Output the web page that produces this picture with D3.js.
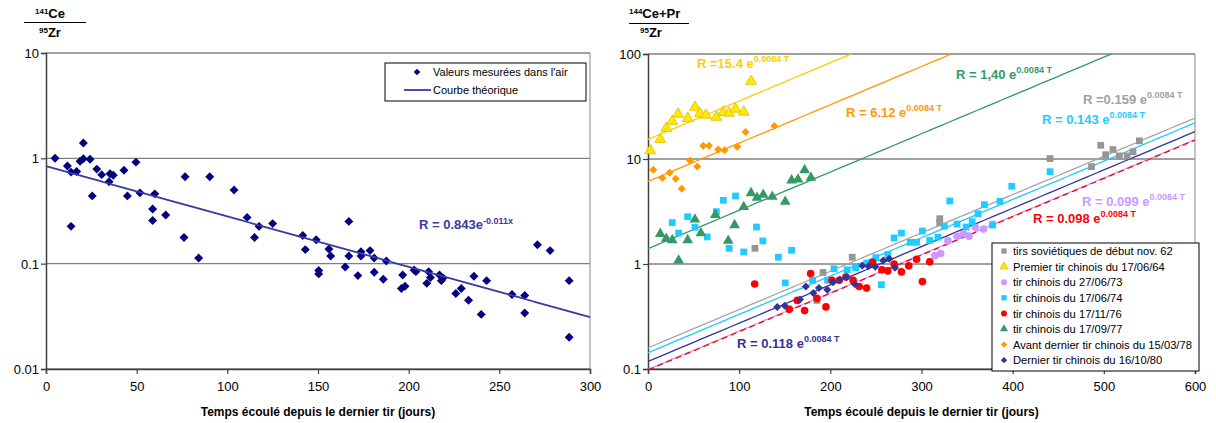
<!DOCTYPE html>
<html><head><meta charset="utf-8">
<script src="https://cdn.jsdelivr.net/npm/d3@7"></script>
<style>body{margin:0;background:#fff} svg{display:block;font-family:Arial,"Liberation Sans",sans-serif}</style>
</head><body><svg id="c" width="1216" height="423"></svg>
<script>
// ---------- DATA ----------
// Left chart: 141Ce / 95Zr measured in air  [days, ratio]
const leftPoints = [[5,1.0],[11.8,0.845],[13.8,0.74],[16.9,0.75],[20.6,1.40],[18.8,0.94],[20.6,0.99],[24.3,0.98],[28,0.79],[30.7,0.70],[35.3,0.715],[37.1,0.69],[34.8,0.60],[43,0.77],[49.6,0.92],[25.5,0.44],[44.9,0.44],[51.8,0.47],[60,0.46],[58.8,0.33],[58.8,0.257],[66,0.29],[13.8,0.226],[76.1,0.177],[84.2,0.113],[76.7,0.67],[90.3,0.67],[103.7,0.50],[110.9,0.275],[117.5,0.226],[115,0.177],[125,0.24],
[141.6,0.185],[143,0.136],[149,0.169],[150.4,0.086],[150.4,0.080],[156,0.138],[157,0.118],[167,0.252],[165,0.093],[167,0.118],[172,0.077],[173.7,0.13],[173.7,0.118],[178.7,0.133],[181,0.113],[181,0.083],[186,0.071],[187.7,0.106],[196.7,0.078],[196,0.058],[198,0.061],[203,0.087],[204,0.084],[211,0.084],[210,0.065],[212,0.074],[217,0.078],[218,0.069],[219,0.073],[226,0.052],[229,0.058],[233,0.045],[236,0.076],[240,0.033],[243,0.069],[257,0.051],[264,0.050],[264,0.034],[271,0.151],[278,0.133],[288.5,0.069],[288.5,0.020]];
const leftFit = {a:0.843, k:-0.011};
const leftYTicks = [0.01,0.1,1,10];
const leftYLabels = ["0.01","0.1","1","10"];
const leftXTicks = [0,50,100,150,200,250,300];

// Right chart: 144Ce+Pr / 95Zr  [days, ratio]
const sovietNov62 = [[117.3,1.41],[185.3,0.45],[192,0.83],[224,1.16],[320,2.70],[320,2.47],[441,10.1],[486.5,8.45],[496.6,13.5],[502,11.0],[510,12.3],[517,10.7],[525.5,10.7],[532,11.7],[539,14.9]];
const chinese640617 = [[2.5,12.0],[13.5,15.4],[20,19.6],[26.6,22.9],[33,26.8],[43.5,24.4],[51.5,31.1],[57,27.2],[63.6,26.2],[75,25.0],[82.6,27.8],[89,27.4],[96,29.9],[105,28],[113,55]];
const chinese730627 = [[314.7,1.2],[321,1.26],[329,1.66],[339,1.84],[346,1.94],[352,1.84],[359,2.24],[368,2.15],[378,2.39]];
const chinese740617 = [[26.6,2.48],[33.6,1.97],[43.5,2.82],[51.5,2.24],[65,1.81],[75,3.15],[82.6,4.04],[96,4.44],[89,1.41],[105,1.30],[119,2.25],[126,1.66],[143,1.16],[157.5,1.35],[150.5,0.66],[180.5,0.70],[197,0.70],[204,0.90],[218.5,0.88],[227.7,0.92],[240,1.02],[250,1.15],[263,1.23],[256,0.635],[270,1.77],[278,1.97],[287.6,1.61],[294.6,1.61],[301,2.06],[309,1.68],[318,1.80],[325,2.29],[331,3.98],[339,2.40],[349,2.25],[355.6,2.53],[362,3.01],[369,3.67],[378,2.35],[386,3.95],[399,5.5],[441,7.57]];
const chinese761117 = [[117,0.645],[155,0.37],[163.8,0.45],[171.8,0.36],[178.4,0.81],[185.3,0.47],[195.2,0.39],[201.8,0.70],[209.8,0.70],[217,0.75],[225,0.70],[231.7,0.61],[239.8,0.59],[246.4,1.04],[256.6,0.88],[263,0.86],[270,1.0],[278,0.84],[286,0.96],[294.6,1.11],[301,0.68],[309,1.05]];
const chinese770917 = [[13.5,1.94],[20,1.74],[26.6,1.69],[33.6,1.08],[43.5,1.69],[51.5,2.66],[58,1.97],[73.8,2.93],[88,1.67],[95,2.35],[105,3.49],[113,4.74],[119.6,4.28],[126.4,4.57],[136.3,4.38],[150.5,3.92],[157.5,6.27],[164.5,6.40],[171.8,7.85],[178.7,6.64]];
const chinese780315 = [[5.8,7.9],[15.7,6.6],[23.8,7.4],[30.4,6.5],[37,5.2],[46,9.7],[54,8.5],[60.6,13.4],[67,13.4],[77,12.3],[84,12.1],[98,13.1],[107,18.1],[138.5,20.6]];
const chinese801016 = [[141.8,0.39],[150,0.40],[166.7,0.46],[173.2,0.61],[181.3,0.53],[187.5,0.59],[196.6,0.57],[203,0.67],[210.5,0.71],[218,0.75],[227,0.64],[235,0.96],[241.6,0.95],[249.3,0.94],[258,1.08],[264.6,1.12],[271,0.92]];
const seriesNames = ["tirs soviétiques de début nov. 62","Premier tir chinois du 17/06/64","tir chinois du 27/06/73","tir chinois du 17/06/74","tir chinois du 17/11/76","tir chinois du 17/09/77","Avant dernier tir chinois du 15/03/78","Dernier tir chinois du 16/10/80"];
const fitRate = 0.0084;
const fitCoefs = [0.159, 15.4, 0.099, 0.143, 0.098, 1.40, 6.12, 0.118];
const fitLabels = ["0.159","15.4","0.099","0.143","0.098","1,40","6.12","0.118"];
const rightYTicks = [0.1,1,10,100];
const rightYLabels = ["0.1","1","10","100"];
const rightXTicks = [0,100,200,300,400,500,600];

// ---------- STYLE ----------
const styles = [
  {sym:"square", fill:"#969696", stroke:"none", line:"#a6a6a6", text:"#a0a0a0", lx:1083, ly:104, pre:"R =", dash:null},
  {sym:"triangle", fill:"#ffea00", stroke:"#e6b800", line:"#ffcc00", text:"#ffcc00", lx:697, ly:68, pre:"R =", dash:null},
  {sym:"circle", fill:"#cc99ff", stroke:"none", line:"#cc99ff", text:"#cc99ff", lx:1082, ly:206, pre:"R = ", dash:null},
  {sym:"square", fill:"#1fcbff", stroke:"none", line:"#1fcbff", text:"#1fcbff", lx:1042, ly:124, pre:"R = ", dash:null},
  {sym:"circle", fill:"#ff0000", stroke:"none", line:"#ff0000", text:"#ff0000", lx:1033, ly:223, pre:"R = ", dash:"6,4"},
  {sym:"triangle", fill:"#339966", stroke:"none", line:"#339966", text:"#339966", lx:956, ly:79, pre:"R = ", dash:null},
  {sym:"diamond", fill:"#ff9900", stroke:"none", line:"#ff9900", text:"#ff9900", lx:846, ly:117, pre:"R = ", dash:null},
  {sym:"diamond", fill:"#333399", stroke:"none", line:"#333399", text:"#333399", lx:737, ly:348, pre:"R = ", dash:null}
];
const rightData = [sovietNov62, chinese640617, chinese730627, chinese740617, chinese761117, chinese770917, chinese780315, chinese801016];

const svg = d3.select("#c");
const FONT = "Arial, 'Liberation Sans', sans-serif";

function symPath(kind, size){
  const t = {square:d3.symbolSquare, circle:d3.symbolCircle, triangle:d3.symbolTriangle, diamond:d3.symbolSquare}[kind];
  return d3.symbol().type(t).size(size)();
}
function drawMarker(g, kind, x, y, size, fill, stroke){
  g.append("path").attr("d", symPath(kind,size))
    .attr("transform", `translate(${x},${y})` + (kind==="diamond"?" rotate(45)":""))
    .attr("fill", fill).attr("stroke", stroke||"none").attr("stroke-width", stroke&&stroke!=="none"?0.8:0);
}
function rich(g, x, y, parts, opts){
  const t = g.append("text").attr("x",x).attr("y",y).attr("font-family",FONT)
    .attr("font-weight",opts.bold?"bold":"normal").attr("fill",opts.color||"#000")
    .attr("text-anchor",opts.anchor||"start");
  let shift = 0;
  parts.forEach(p=>{
    const ts = t.append("tspan").text(p.t);
    const target = p.sup ? -opts.supRaise : 0;
    if (target !== shift) { ts.attr("dy", target - shift); shift = target; }
    ts.attr("font-size", p.sup ? opts.supSize : opts.size);
  });
  return t;
}

function drawFrame(g, x, y, ticksY, labelsY, ticksX, x0, x1, y0, y1){
  ticksY.forEach(v=>{
    g.append("line").attr("x1",x0).attr("x2",x1).attr("y1",y(v)).attr("y2",y(v))
      .attr("stroke","#808080").attr("stroke-width",1.4);
  });
  g.append("line").attr("x1",x1).attr("x2",x1).attr("y1",y1).attr("y2",y0).attr("stroke","#9a9a9a").attr("stroke-width",1.2);
  const ax = g.append("g").attr("transform",`translate(0,${y0})`).call(d3.axisBottom(x).tickValues(ticksX).tickSize(5).tickFormat(d3.format("d")));
  const ay = g.append("g").attr("transform",`translate(${x0},0)`).call(d3.axisLeft(y).tickValues(ticksY).tickSize(5).tickFormat((d,i)=>labelsY[i]));
  [ax,ay].forEach(a=>{
    a.select(".domain").attr("stroke","#404040").attr("stroke-width",1.5);
    a.selectAll(".tick line").attr("stroke","#404040").attr("stroke-width",1.2);
    a.selectAll("text").attr("font-family",FONT).attr("font-size",13).attr("fill","#000");
  });
  ax.selectAll("text").attr("dy","1.05em");
  ay.selectAll("text").attr("x",-7).attr("dy","0.35em");
}

// ---------- LEFT CHART ----------
{
  const x0=46, x1=590, y0=369, y1=53;
  const x = d3.scaleLinear().domain([0,300]).range([x0,x1]);
  const y = d3.scaleLog().domain([0.01,10]).range([y0,y1]);
  const g = svg.append("g");
  drawFrame(g, x, y, leftYTicks, leftYLabels, leftXTicks, x0, x1, y0, y1);
  g.selectAll("path.pt").data(leftPoints).enter().append("path").attr("class","pt")
    .attr("d", symPath("diamond",40)).attr("fill","#000080")
    .attr("transform", d=>`translate(${x(d[0])},${y(d[1])}) rotate(45)`);
  const xs = d3.range(0,301,2);
  g.append("path").datum(xs).attr("fill","none").attr("stroke","#3a3aa0").attr("stroke-width",1.8)
    .attr("d", d3.line().x(d=>x(d)).y(d=>y(leftFit.a*Math.exp(leftFit.k*d))));
  rich(g, 419, 229, [{t:"R = 0.843e"},{t:"-0.011x",sup:true}], {bold:true,size:13,supSize:9,supRaise:5,color:"#3a3aa0"});
  g.append("rect").attr("x",385).attr("y",63).attr("width",201).attr("height",38).attr("fill","#fff").attr("stroke","#000").attr("stroke-width",1);
  drawMarker(g,"diamond",417,72,22,"#000080");
  g.append("text").attr("x",433).attr("y",76).attr("font-size",11).attr("font-family",FONT).text("Valeurs mesurées dans l'air");
  g.append("line").attr("x1",404).attr("x2",431).attr("y1",90).attr("y2",90).attr("stroke","#3a3aa0").attr("stroke-width",1.8);
  g.append("text").attr("x",433).attr("y",94).attr("font-size",11).attr("font-family",FONT).text("Courbe théorique");
  rich(g, 35, 18, [{t:"141",sup:true},{t:"Ce"}], {bold:true,size:13,supSize:8,supRaise:4});
  g.append("line").attr("x1",24).attr("x2",86).attr("y1",22.5).attr("y2",22.5).attr("stroke","#000").attr("stroke-width",1.2);
  rich(g, 39, 37, [{t:"95",sup:true},{t:"Zr"}], {bold:true,size:13,supSize:8,supRaise:4});
  g.append("text").attr("x",(x0+x1)/2).attr("y",416).attr("text-anchor","middle").attr("font-family",FONT)
    .attr("font-weight","bold").attr("font-size",12).text("Temps écoulé depuis le dernier tir (jours)");
}

// ---------- RIGHT CHART ----------
{
  const x0=648, x1=1195, y0=369, y1=54;
  const x = d3.scaleLinear().domain([0,600]).range([x0,x1]);
  const y = d3.scaleLog().domain([0.1,100]).range([y0,y1]);
  const g = svg.append("g");
  drawFrame(g, x, y, rightYTicks, rightYLabels, rightXTicks, x0, x1, y0, y1);
  svg.append("defs").append("clipPath").attr("id","clipR").append("rect")
    .attr("x",x0).attr("y",y1).attr("width",x1-x0).attr("height",y0-y1);
  const lines = g.append("g").attr("clip-path","url(#clipR)");
  const ts = d3.range(0,601,10);
  const lineGen = c => d3.line().x(d=>x(d)).y(d=>y(c*Math.exp(fitRate*d)))(ts);
  fitCoefs.forEach((c,i)=>{
    const s = styles[i];
    lines.append("path").attr("d",lineGen(c)).attr("fill","none").attr("stroke",s.line)
      .attr("stroke-width",1.3).attr("stroke-dasharray",s.dash);
  });
  rightData.forEach((arr,i)=>{
    const s = styles[i];
    const size = s.sym==="triangle"?50:(s.sym==="diamond"?32:46);
    g.append("g").selectAll("path").data(arr).enter().append("path")
      .attr("d", symPath(s.sym,size)).attr("fill",s.fill).attr("stroke",s.stroke).attr("stroke-width",s.stroke==="none"?0:0.8)
      .attr("transform", d=>`translate(${x(d[0])},${y(d[1])})`+(s.sym==="diamond"?" rotate(45)":""));
  });
  fitLabels.forEach((lab,i)=>{
    const s = styles[i];
    rich(g, s.lx, s.ly, [{t:s.pre+lab+" e"},{t:"0.0084 T",sup:true}], {bold:true,size:13,supSize:9,supRaise:6,color:s.text});
  });
  g.append("rect").attr("x",992).attr("y",243).attr("width",207).attr("height",128).attr("fill","#fff").attr("stroke","#000").attr("stroke-width",1);
  seriesNames.forEach((nm,i)=>{
    const s = styles[i];
    const yy = 251 + i*15.6;
    drawMarker(g, s.sym, 1004, yy, s.sym==="diamond"?20:28, s.fill, s.stroke);
    g.append("text").attr("x",1013).attr("y",yy+4.2).attr("font-size",11.2).attr("font-family",FONT).text(nm);
  });
  rich(g, 629, 18, [{t:"144",sup:true},{t:"Ce+Pr"}], {bold:true,size:13,supSize:8,supRaise:4});
  g.append("line").attr("x1",629).attr("x2",689).attr("y1",23.5).attr("y2",23.5).attr("stroke","#000").attr("stroke-width",1.2);
  rich(g, 640, 37, [{t:"95",sup:true},{t:"Zr"}], {bold:true,size:13,supSize:8,supRaise:4});
  g.append("text").attr("x",(x0+x1)/2).attr("y",416).attr("text-anchor","middle").attr("font-family",FONT)
    .attr("font-weight","bold").attr("font-size",12).text("Temps écoulé depuis le dernier tir (jours)");
}
</script></body></html>
